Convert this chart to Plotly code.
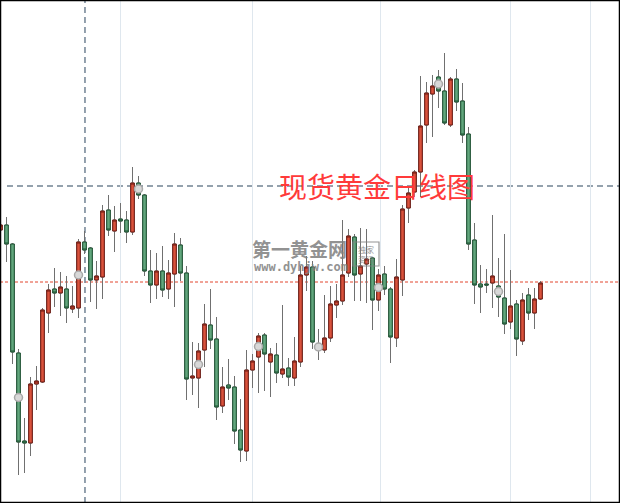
import plotly.graph_objects as go

# ---- data (price units arbitrary) ----
day_index = list(range(91))
open_ = [1270, 1275, 1256, 1147, 1059, 1057, 1116, 1118, 1187, 1211,
         1207, 1211, 1191, 1192, 1258, 1252, 1220, 1223, 1290, 1269,
         1281, 1280, 1268, 1317, 1305, 1229, 1215, 1229, 1211, 1226,
         1255, 1227, 1122, 1122, 1150, 1175, 1161, 1094, 1115, 1113,
         1070, 1049, 1130, 1143, 1165, 1138, 1145, 1126, 1132, 1122,
         1138, 1225, 1233, 1155, 1150, 1162, 1195, 1199, 1227, 1263,
         1226, 1236, 1242, 1200, 1226, 1211, 1162, 1220, 1292, 1308,
         1328, 1375, 1406, 1423, 1409, 1375, 1421, 1399, 1366, 1260,
         1216, 1216, 1217, 1214, 1202, 1178, 1196, 1159, 1205, 1187,
         1201]
high = [1278, 1283, 1257, 1151, 1082, 1123, 1134, 1192, 1216, 1232,
        1228, 1224, 1214, 1261, 1269, 1253, 1239, 1295, 1305, 1294,
        1297, 1289, 1333, 1324, 1306, 1250, 1247, 1254, 1240, 1267,
        1262, 1234, 1158, 1157, 1196, 1211, 1183, 1133, 1141, 1124,
        1101, 1150, 1146, 1167, 1167, 1152, 1157, 1195, 1142, 1163,
        1234, 1244, 1239, 1171, 1205, 1214, 1216, 1280, 1271, 1266,
        1272, 1271, 1243, 1231, 1234, 1213, 1241, 1295, 1312, 1330,
        1424, 1418, 1425, 1430, 1447, 1423, 1431, 1417, 1373, 1277,
        1235, 1231, 1285, 1242, 1266, 1230, 1200, 1207, 1212, 1212,
        1219]
low = [1267, 1238, 1136, 1025, 1027, 1044, 1090, 1117, 1167, 1193,
       1184, 1177, 1187, 1182, 1246, 1198, 1191, 1201, 1264, 1248,
       1267, 1257, 1265, 1301, 1224, 1197, 1201, 1203, 1201, 1193,
       1219, 1100, 1105, 1092, 1133, 1151, 1080, 1087, 1100, 1056,
       1038, 1039, 1112, 1107, 1109, 1103, 1117, 1122, 1114, 1114,
       1133, 1209, 1151, 1140, 1147, 1158, 1182, 1195, 1223, 1199,
       1199, 1197, 1170, 1189, 1205, 1137, 1153, 1204, 1277, 1303,
       1303, 1357, 1363, 1392, 1375, 1373, 1389, 1357, 1250, 1196,
       1187, 1207, 1192, 1183, 1166, 1171, 1144, 1155, 1180, 1171,
       1200]
close = [1275, 1256, 1148, 1058, 1057, 1116, 1119, 1190, 1210, 1207,
         1213, 1192, 1194, 1258, 1250, 1220, 1224, 1289, 1270, 1280,
         1279, 1268, 1317, 1305, 1229, 1215, 1229, 1210, 1227, 1256,
         1227, 1121, 1124, 1149, 1176, 1160, 1093, 1113, 1112, 1069,
         1050, 1130, 1139, 1164, 1146, 1146, 1127, 1131, 1123, 1139,
         1225, 1233, 1158, 1151, 1162, 1196, 1199, 1225, 1264, 1225,
         1234, 1241, 1200, 1225, 1211, 1163, 1223, 1291, 1307, 1328,
         1374, 1407, 1414, 1409, 1377, 1421, 1398, 1365, 1256, 1215,
         1213, 1215, 1224, 1203, 1176, 1194, 1161, 1200, 1187, 1201,
         1217]
month_breaks = [20.08, 42.08, 63.25, 85.08, 98.25]
marker_step = 10
marker_start = 3
support_level = 1218
cursor_x = 14.08
cursor_y = 1314
title_text = "现货黄金日线图"

# ---- styling ----
RED_FILL, RED_LINE = "#d9523c", "#6e1a12"
GRN_FILL, GRN_LINE = "#62a67d", "#1d5332"
WICK = "#707070"

body_hi = [max(o, c) for o, c in zip(open_, close)]
body_lo = [min(o, c) for o, c in zip(open_, close)]

fig = go.Figure()
# wicks
fig.add_trace(go.Candlestick(
    x=day_index, open=open_, high=high, low=low, close=close,
    increasing=dict(line=dict(color=WICK, width=1), fillcolor=WICK),
    decreasing=dict(line=dict(color=WICK, width=1), fillcolor=WICK),
    whiskerwidth=0, hoverinfo="skip", showlegend=False))
# bodies
fig.add_trace(go.Candlestick(
    x=day_index, open=open_, high=body_hi, low=body_lo, close=close,
    increasing=dict(line=dict(color=RED_LINE, width=1), fillcolor=RED_FILL),
    decreasing=dict(line=dict(color=GRN_LINE, width=1), fillcolor=GRN_FILL),
    whiskerwidth=0, showlegend=False))
# periodic markers
mk_x = day_index[marker_start::marker_step]
mk_y = [(open_[i] + close[i]) / 2 for i in mk_x]
fig.add_trace(go.Scatter(
    x=mk_x, y=mk_y, mode="markers", showlegend=False,
    marker=dict(size=8, color="#d8d8d8", line=dict(color="#a8a8a8", width=1.5))))

shapes = [
    dict(type="line", xref="paper", x0=0, x1=1, yref="y", y0=support_level, y1=support_level,
         line=dict(color="#e2472e", width=1, dash="3px,2px"), layer="below"),
    dict(type="line", xref="x", x0=cursor_x, x1=cursor_x, yref="paper", y0=0, y1=1,
         line=dict(color="#718293", width=1.5, dash="6px,4px"), layer="below"),
    dict(type="line", xref="paper", x0=7 / 620, x1=1, yref="y", y0=cursor_y, y1=cursor_y,
         line=dict(color="#718293", width=1.5, dash="6px,4px"), layer="below"),
    # watermark badge box
    dict(type="rect", xref="paper", yref="paper",
         x0=353 / 620, x1=379 / 620, y0=1 - 266 / 503, y1=1 - 242 / 503,
         line=dict(color="rgba(130,130,130,0.85)", width=1.2), layer="above"),
    # frame
    dict(type="rect", xref="paper", yref="paper", x0=0, x1=1, y0=0, y1=1,
         line=dict(color="black", width=2.5), layer="above"),
]

annotations = [
    dict(text=title_text, xref="paper", yref="paper", x=376.5 / 620, y=1 - 185.5 / 503,
         xanchor="center", yanchor="middle", showarrow=False,
         font=dict(family="Noto Sans CJK SC", size=28, color="#ff3a3a")),
    dict(text="<b>第一黄金网</b>", xref="paper", yref="paper", x=299 / 620, y=1 - 248.5 / 503,
         xanchor="center", yanchor="middle", showarrow=False, opacity=0.85,
         font=dict(family="Noto Sans CJK SC", size=19, color="#7f7f7f")),
    dict(text="<b>www.dyhjw.com</b>", xref="paper", yref="paper", x=301 / 620, y=1 - 267 / 503,
         xanchor="center", yanchor="middle", showarrow=False, opacity=0.85,
         font=dict(family="DejaVu Sans Mono", size=12, color="#7f7f7f")),
    dict(text="独家<br>资讯", xref="paper", yref="paper", x=366 / 620, y=1 - 254 / 503,
         xanchor="center", yanchor="middle", showarrow=False, opacity=0.85,
         font=dict(family="Noto Sans CJK SC", size=8, color="#7f7f7f")),
]

fig.update_layout(
    width=620, height=503, margin=dict(l=0, r=0, t=0, b=0),
    paper_bgcolor="white", plot_bgcolor="white", boxgap=0.15,
    showlegend=False, shapes=shapes, annotations=annotations,
    xaxis=dict(range=[-0.5 / 6, 619.5 / 6], tickvals=month_breaks, showticklabels=False,
               showgrid=True, gridcolor="#dfe7ee", gridwidth=1, zeroline=False,
               showline=False, ticks="", rangeslider=dict(visible=False)),
    yaxis=dict(range=[997, 1500], showgrid=False, showticklabels=False,
               zeroline=False, showline=False, ticks=""),
)

fig.write_html("out.html", config={"displayModeBar": False},
               post_script="document.body.style.margin='0';")
